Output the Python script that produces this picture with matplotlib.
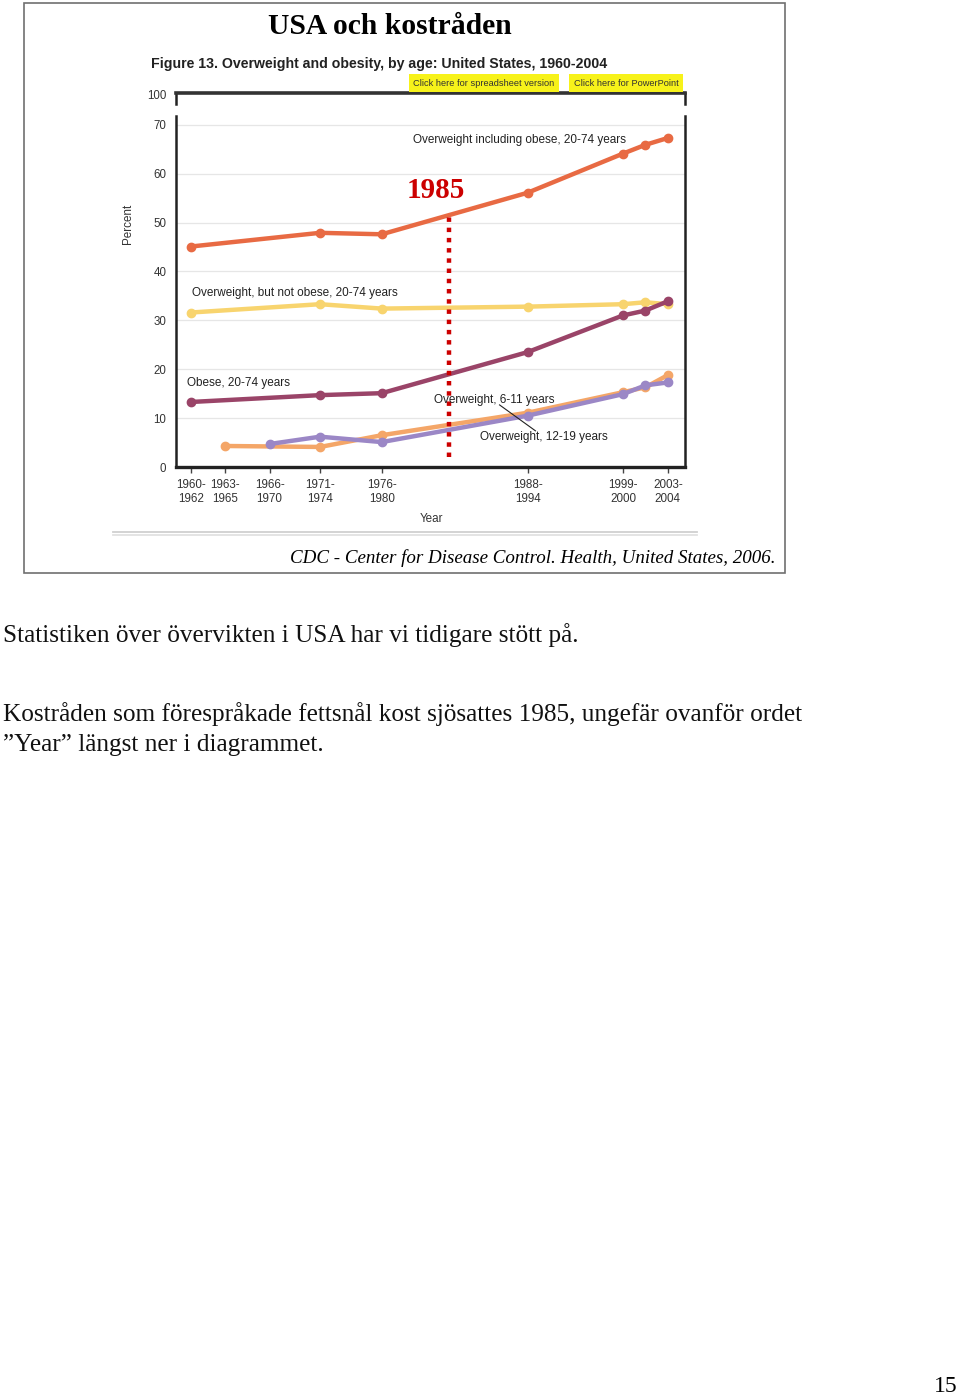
import matplotlib
matplotlib.use("Agg")
import matplotlib.pyplot as plt
from matplotlib.lines import Line2D
from matplotlib.patches import Rectangle

# survey periods (midpoint years) and their labels
x_ticks = [1961, 1964, 1968, 1972.5, 1978, 1991, 1999.5, 2003.5]
x_labels = ["1960-\n1962", "1963-\n1965", "1966-\n1970", "1971-\n1974",
            "1976-\n1980", "1988-\n1994", "1999-\n2000", "2003-\n2004"]

# adults 20-74 years
adult_years = [1961, 1972.5, 1978, 1991, 1999.5, 2001.5, 2003.5]
overweight_incl_obese = [45.1, 47.9, 47.6, 56.1, 64.1, 65.9, 67.3]
overweight_not_obese = [31.6, 33.3, 32.4, 32.8, 33.3, 33.7, 33.3]
obese_adults = [13.3, 14.7, 15.1, 23.5, 31.0, 32.0, 33.9]

# children
kids_years = [1964, 1972.5, 1978, 1991, 1999.5, 2001.5, 2003.5]
overweight_6_11 = [4.3, 4.1, 6.5, 11.1, 15.3, 16.3, 18.8]
teen_years = [1968, 1972.5, 1978, 1991, 1999.5, 2001.5, 2003.5]
overweight_12_19 = [4.7, 6.2, 5.1, 10.5, 14.9, 16.7, 17.3]

y_ticks = [0, 10, 20, 30, 40, 50, 60, 70, 76.2]
y_labels = ["0", "10", "20", "30", "40", "50", "60", "70", "100"]
grid_vals = [10, 20, 30, 40, 50, 60, 70]

guide_year = 1984
guide_range = [2.0, 51.8]

W, H = 960, 1397
SERIF = "Liberation Serif"
SANS = "Liberation Sans"


def px(x, y):
    return x / W, 1 - y / H


fig = plt.figure(figsize=(W / 100, H / 100), dpi=100)

# frame around the slide picture
fig.add_artist(Rectangle(px(24, 573), (785 - 24) / W, (573 - 3) / H,
                         transform=fig.transFigure, fill=False,
                         edgecolor="#707070", lw=1.2))

fig.text(*px(390, 27), "USA och kostråden", family=SERIF, weight="bold",
         fontsize=21.3, ha="center", va="center")
fig.text(*px(151, 64), "Figure 13. Overweight and obesity, by age: United States, 1960-2004",
         family=SANS, weight="bold", fontsize=10.2, ha="left", va="center", color="#222222")

for cx, txt in [(484, "Click here for spreadsheet version"), (626, "Click here for PowerPoint")]:
    fig.text(*px(cx, 83), txt, family=SANS, fontsize=6.7, ha="center", va="center",
             color="#333333",
             bbox=dict(boxstyle="square,pad=0.5", facecolor="#F7F21A", edgecolor="none"))

# main chart
ax = fig.add_axes([176 / W, 1 - 467 / H, (685 - 176) / W, (467 - 93) / H])
ax.set_xlim(1959.66, 2005.03)
ax.set_ylim(0, 76.5)

for g in grid_vals:
    ax.axhline(g, color="#E6E6E6", lw=0.9, zorder=0)

lw, ms = 3.2, 6
ax.plot(adult_years, overweight_not_obese, "-o", color="#F8D46E", lw=lw, ms=ms, zorder=3)
ax.plot(adult_years, overweight_incl_obese, "-o", color="#E86A43", lw=lw, ms=ms, zorder=3)
ax.plot(adult_years, obese_adults, "-o", color="#9A4468", lw=lw, ms=ms, zorder=4)
ax.plot(kids_years, overweight_6_11, "-o", color="#F4A668", lw=lw, ms=ms, zorder=3)
ax.plot(teen_years, overweight_12_19, "-o", color="#9B87C6", lw=lw, ms=ms, zorder=4)

# 1985 guide
ax.plot([guide_year, guide_year], guide_range, color="#CC0000", lw=3.2,
        linestyle=(0, (1, 1.3)), zorder=6)
fig.text(*px(436, 190), "1985", family=SERIF, weight="bold", fontsize=21,
         color="#CC0000", ha="center", va="center")

lab = dict(family=SANS, fontsize=8.5, color="#222222", va="center", ha="left", zorder=7)
ax.text(1980.8, 66.9, "Overweight including obese, 20-74 years", **lab)
ax.text(1961.1, 35.6, "Overweight, but not obese, 20-74 years", **lab)
ax.text(1960.6, 17.2, "Obese, 20-74 years", **lab)
ax.text(1982.7, 13.7, "Overweight, 6-11 years", **lab)
ax.text(1986.8, 6.1, "Overweight, 12-19 years", **lab)
ax.plot([1988.5, 1991.7], [12.7, 7.4], color="#222222", lw=0.8, zorder=7)

# broken frame
for side in ["left", "right"]:
    ax.spines[side].set_bounds(0, 71.8)
    ax.spines[side].set_linewidth(1.8)
    ax.spines[side].set_color("#222222")
tr = ax.get_yaxis_transform()
for xa in [0, 1]:
    ax.plot([xa, xa], [74.3, 76.5], color="#222222", lw=1.8, transform=tr, clip_on=False)
ax.spines["top"].set_linewidth(2.6)
ax.spines["top"].set_color("#333333")
ax.spines["bottom"].set_linewidth(2.4)
ax.spines["bottom"].set_color("#222222")

ax.set_yticks(y_ticks)
ax.set_yticklabels(y_labels, family=SANS, fontsize=8.3, color="#333333")
ax.tick_params(axis="y", length=0, pad=7)
ax.set_xticks(x_ticks)
ax.set_xticklabels(x_labels, family=SANS, fontsize=8.4, color="#333333", linespacing=1.25)
ax.tick_params(axis="x", length=4, width=1, color="#444444", pad=4.5)

fig.text(*px(128, 224), "Percent", family=SANS, fontsize=8.4, rotation=90,
         ha="center", va="center", color="#333333")
fig.text(*px(431, 519), "Year", family=SANS, fontsize=8.4, ha="center", va="center",
         color="#333333")

# separator under chart
for yy, c in [(532, "#D0D0D0"), (535, "#E2E2E2")]:
    fig.add_artist(Line2D([113 / W, 697 / W], [1 - yy / H] * 2, color=c, lw=1.3,
                          transform=fig.transFigure))

fig.text(*px(776, 558), "CDC - Center for Disease Control. Health, United States, 2006.",
         family=SERIF, style="italic", fontsize=13.7, ha="right", va="center")

body = dict(family=SERIF, fontsize=18.2, ha="left", va="center", color="#111111")
fig.text(*px(3, 635), "Statistiken över övervikten i USA har vi tidigare stött på.", **body)
fig.text(*px(3, 714), "Kostråden som förespråkade fettsnål kost sjösattes 1985, ungefär ovanför ordet", **body)
fig.text(*px(3, 745), "\u201dYear\u201d längst ner i diagrammet.", **body)
fig.text(*px(958, 1386), "15", family=SERIF, fontsize=17, ha="right", va="center")

fig.savefig("out.png", dpi=100)
